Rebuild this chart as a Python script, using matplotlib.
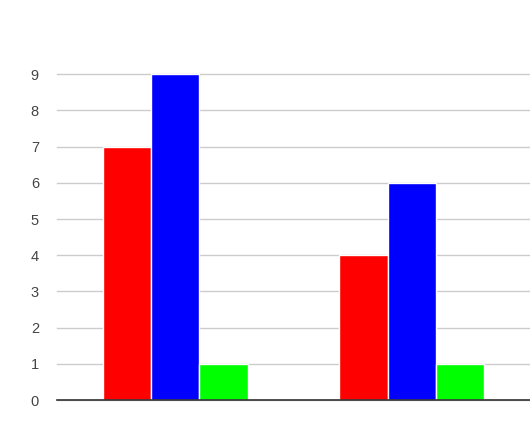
import numpy as np
import matplotlib
matplotlib.use('Agg')
import matplotlib.pyplot as plt

# data
categories = ['A', 'B']
red_vals = [7, 4]
blue_vals = [9, 6]
green_vals = [1, 1]
y_ticks = [0, 1, 2, 3, 4, 5, 6, 7, 8, 9]

plt.rcParams['font.family'] = ['Liberation Sans', 'DejaVu Sans']

fig = plt.figure(figsize=(5.30, 4.46), dpi=100)
W, H = 530, 446
ax = fig.add_axes([57 / W, (H - 400) / H, (530 - 57) / W, (400 - 74.3) / H])

x = np.arange(len(categories))
width = 0.205
for off, vals, col in [(-1, red_vals, '#ff0000'), (0, blue_vals, '#0000ff'), (1, green_vals, '#00ff00')]:
    ax.bar(x + off * width, vals, width, color=col, edgecolor='white', linewidth=1, zorder=3)

ax.set_xlim(-0.5, len(categories) - 0.5)
ax.set_ylim(0, 9)
ax.set_yticks(y_ticks)
ax.set_xticks([])
ax.grid(axis='y', color='#cccccc', linewidth=1, zorder=0)
for gl in ax.get_ygridlines():
    gl.set_clip_on(False)

for s in ['top', 'right', 'left']:
    ax.spines[s].set_visible(False)
ax.spines['bottom'].set_color('#333333')
ax.spines['bottom'].set_linewidth(1.2)
ax.spines['bottom'].set_zorder(4)
ax.tick_params(axis='y', length=0, pad=13, labelsize=10.5, labelcolor='#444444')

fig.savefig('out.png', dpi=100)
